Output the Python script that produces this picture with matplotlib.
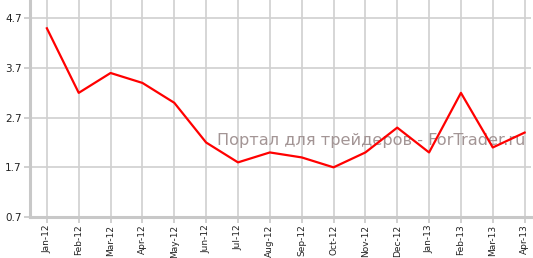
import matplotlib
matplotlib.use("Agg")
import matplotlib.pyplot as plt

# monthly values
months = ['Jan-12', 'Feb-12', 'Mar-12', 'Apr-12', 'May-12', 'Jun-12', 'Jul-12', 'Aug-12',
          'Sep-12', 'Oct-12', 'Nov-12', 'Dec-12', 'Jan-13', 'Feb-13', 'Mar-13', 'Apr-13']
values = [4.5, 3.2, 3.6, 3.4, 3.0, 2.2, 1.8, 2.0, 1.9, 1.7, 2.0, 2.5, 2.0, 3.2, 2.1, 2.4]
yticks = [0.7, 1.7, 2.7, 3.7, 4.7]
watermark = 'Портал для трейдеров - ForTrader.ru'

fig = plt.figure(figsize=(5.33, 2.58), dpi=100)
ax = fig.add_axes([30 / 533, 1 - 217 / 258, 501 / 533, 217 / 258])

x = list(range(len(months)))
ax.plot(x, values, color='#ff0000', lw=1.6, zorder=3)

ax.set_xlim(-0.53, 15.2)
ax.set_ylim(0.7, 5.07)
ax.set_xticks(x)
ax.set_xticklabels(months, rotation=90, fontsize=6.5, color='#222222')
ax.set_yticks(yticks)
ax.set_yticklabels([str(v) for v in yticks], fontsize=7.5, color='#222222')
ax.grid(True, color='#d0d0d0', lw=1.2, zorder=0)
ax.set_axisbelow(True)

for s in ['top', 'right']:
    ax.spines[s].set_visible(False)
for s in ['left', 'bottom']:
    ax.spines[s].set_color('#c8c8c8')
    ax.spines[s].set_linewidth(2.2)
ax.tick_params(axis='both', color='#c8c8c8', length=4, width=1.2, pad=2)
ax.tick_params(axis='x', pad=1.5)

# watermark, placed in pixel coords (origin bottom-left)
ax.text(217, 258 - 145.5, watermark, transform=None, fontsize=11.6, color='#a39595',
        ha='left', va='baseline', zorder=2)

fig.savefig('out.png', dpi=100)
